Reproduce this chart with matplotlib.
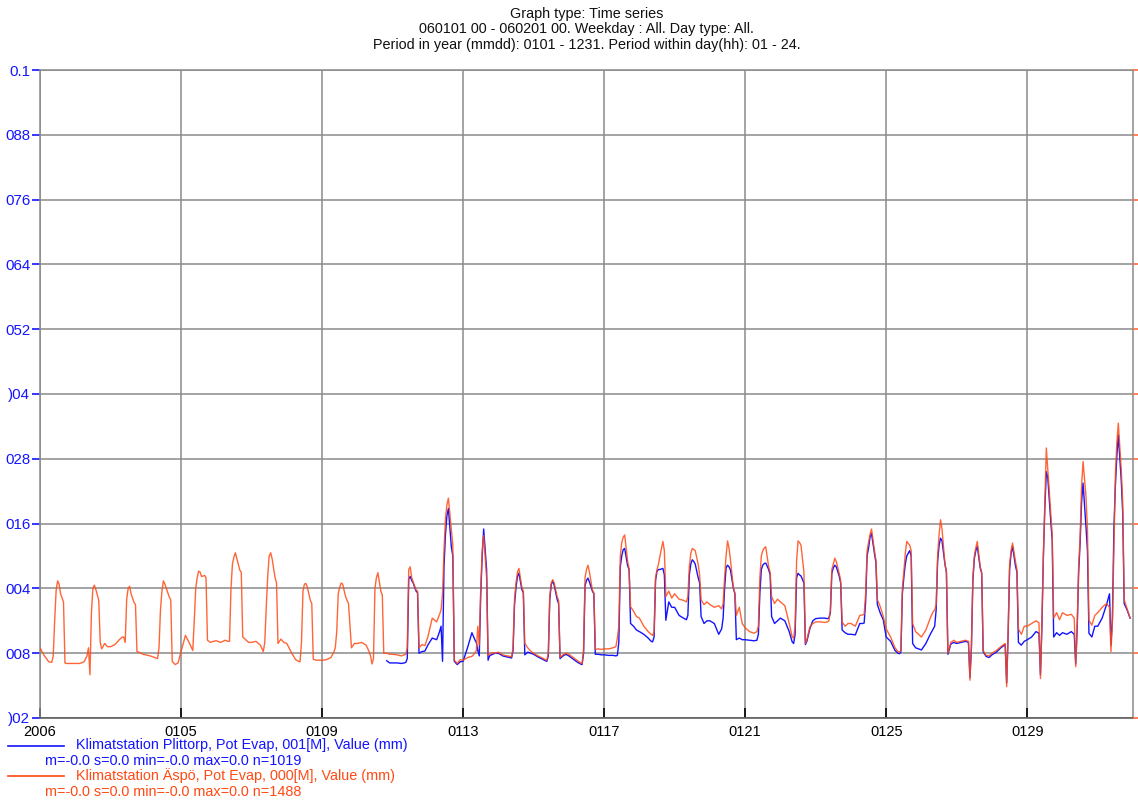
import numpy as np
import pandas as pd
import matplotlib
matplotlib.use('Agg')
import matplotlib.pyplot as plt
from matplotlib.lines import Line2D

plt.rcParams['font.family'] = ['Liberation Sans', 'DejaVu Sans']

# hours read inside each day
hours = [0, 3, 6, 8, 9, 10, 11, 12, 13, 14, 16, 17, 18, 20, 22]

# Klimatstation Aspo, Pot Evap (mm), 1..31 Jan 2006, one row per day
aspo = [
    [-0.0070, -0.0085, -0.0096, -0.0097, -0.0085, -0.0019, 0.0037, 0.0054, 0.0048, 0.0030, 0.0015, -0.0098, -0.0099, -0.0099, -0.0099],
    [-0.0099, -0.0099, -0.0096, -0.0085, -0.0070, -0.0120, -0.0005, 0.0040, 0.0046, 0.0038, 0.0018, -0.0060, -0.0072, -0.0062, -0.0068],
    [-0.0068, -0.0064, -0.0055, -0.0050, -0.0050, -0.0060, 0.0020, 0.0040, 0.0044, 0.0030, 0.0014, 0.0010, -0.0077, -0.0079, -0.0082],
    [-0.0083, -0.0085, -0.0088, -0.0090, -0.0070, 0.0000, 0.0035, 0.0054, 0.0048, 0.0040, 0.0024, 0.0019, -0.0095, -0.0101, -0.0098],
    [-0.0077, -0.0047, -0.0063, -0.0075, -0.0020, 0.0040, 0.0060, 0.0072, 0.0070, 0.0062, 0.0064, 0.0060, -0.0056, -0.0060, -0.0058],
    [-0.0057, -0.0060, -0.0056, -0.0058, -0.0058, 0.0040, 0.0085, 0.0098, 0.0106, 0.0095, 0.0074, 0.0070, -0.0050, -0.0055, -0.0060],
    [-0.0060, -0.0058, -0.0065, -0.0077, -0.0060, 0.0005, 0.0062, 0.0100, 0.0106, 0.0095, 0.0060, 0.0050, -0.0062, -0.0054, -0.0060],
    [-0.0062, -0.0078, -0.0092, -0.0095, -0.0096, -0.0060, 0.0035, 0.0048, 0.0049, 0.0042, 0.0018, 0.0012, -0.0091, -0.0093, -0.0093],
    [-0.0093, -0.0092, -0.0088, -0.0078, -0.0070, -0.0040, 0.0030, 0.0042, 0.0050, 0.0048, 0.0025, 0.0018, 0.0012, -0.0070, -0.0062],
    [-0.0062, -0.0060, -0.0065, -0.0077, -0.0085, -0.0100, -0.0090, 0.0040, 0.0060, 0.0069, 0.0035, 0.0028, -0.0080, -0.0080, -0.0082],
    [-0.0082, -0.0083, -0.0085, -0.0083, -0.0082, -0.0070, 0.0075, 0.0080, 0.0060, 0.0052, 0.0037, 0.0035, -0.0070, -0.0064, -0.0066],
    [-0.0050, -0.0015, -0.0022, -0.0008, 0.0000, 0.0030, 0.0110, 0.0170, 0.0195, 0.0207, 0.0150, 0.0120, -0.0093, -0.0099, -0.0092],
    [-0.0093, -0.0088, -0.0086, -0.0080, -0.0075, -0.0030, -0.0065, 0.0040, 0.0110, 0.0138, 0.0060, -0.0085, -0.0082, -0.0079, -0.0080],
    [-0.0078, -0.0083, -0.0085, -0.0086, -0.0087, -0.0070, 0.0020, 0.0050, 0.0070, 0.0077, 0.0042, 0.0035, -0.0062, -0.0070, -0.0076],
    [-0.0080, -0.0085, -0.0089, -0.0092, -0.0093, -0.0080, 0.0025, 0.0050, 0.0056, 0.0050, 0.0025, 0.0018, -0.0088, -0.0083, -0.0080],
    [-0.0082, -0.0088, -0.0094, -0.0098, -0.0099, -0.0075, 0.0060, 0.0075, 0.0083, 0.0070, 0.0037, 0.0032, -0.0073, -0.0072, -0.0073],
    [-0.0072, -0.0072, -0.0070, -0.0068, -0.0052, -0.0030, 0.0100, 0.0125, 0.0135, 0.0139, 0.0090, 0.0075, 0.0006, -0.0002, -0.0012],
    [-0.0015, -0.0030, -0.0040, -0.0045, -0.0047, -0.0040, 0.0060, 0.0075, 0.0085, 0.0100, 0.0127, 0.0110, 0.0025, 0.0035, 0.0022],
    [0.0030, 0.0020, 0.0018, 0.0015, 0.0025, 0.0080, 0.0105, 0.0114, 0.0112, 0.0110, 0.0085, 0.0065, 0.0019, 0.0010, 0.0015],
    [0.0010, 0.0005, 0.0008, 0.0002, 0.0012, 0.0060, 0.0100, 0.0128, 0.0115, 0.0093, 0.0040, 0.0032, -0.0010, 0.0005, -0.0025],
    [-0.0033, -0.0040, -0.0043, -0.0040, -0.0030, 0.0060, 0.0100, 0.0110, 0.0115, 0.0117, 0.0080, 0.0070, 0.0025, 0.0012, 0.0020],
    [0.0015, 0.0008, -0.0025, -0.0050, -0.0052, -0.0030, 0.0090, 0.0128, 0.0125, 0.0120, 0.0070, -0.0062, -0.0055, -0.0032, -0.0025],
    [-0.0022, -0.0022, -0.0023, -0.0022, -0.0020, 0.0000, 0.0075, 0.0085, 0.0096, 0.0090, 0.0068, 0.0055, -0.0022, -0.0030, -0.0025],
    [-0.0025, -0.0030, -0.0010, -0.0009, -0.0008, 0.0030, 0.0110, 0.0125, 0.0140, 0.0150, 0.0110, 0.0093, 0.0019, 0.0006, -0.0012],
    [-0.0035, -0.0050, -0.0070, -0.0077, -0.0078, -0.0075, 0.0040, 0.0070, 0.0105, 0.0127, 0.0120, 0.0110, -0.0025, -0.0040, -0.0045],
    [-0.0050, -0.0037, -0.0015, -0.0003, 0.0000, 0.0010, 0.0100, 0.0140, 0.0167, 0.0150, 0.0085, 0.0070, -0.0080, -0.0060, -0.0056],
    [-0.0060, -0.0058, -0.0056, -0.0058, -0.0130, -0.0070, 0.0060, 0.0100, 0.0115, 0.0127, 0.0080, 0.0070, -0.0075, -0.0084, -0.0085],
    [-0.0080, -0.0075, -0.0068, -0.0064, -0.0062, -0.0142, -0.0040, 0.0085, 0.0110, 0.0124, 0.0090, 0.0075, -0.0035, -0.0045, -0.0030],
    [-0.0030, -0.0025, -0.0020, -0.0024, -0.0127, -0.0020, 0.0100, 0.0200, 0.0300, 0.0260, 0.0180, 0.0140, -0.0015, -0.0005, -0.0018],
    [-0.0005, -0.0010, -0.0008, -0.0015, -0.0105, -0.0030, 0.0080, 0.0136, 0.0230, 0.0275, 0.0210, 0.0150, -0.0019, -0.0028, -0.0010],
    [-0.0005, 0.0005, 0.0012, 0.0005, -0.0077, -0.0020, 0.0120, 0.0250, 0.0310, 0.0346, 0.0260, 0.0200, 0.0019, 0.0002, -0.0015],
]

# Klimatstation Plittorp, Pot Evap (mm), 10..31 Jan 2006 (starts evening of the 10th)
nan = np.nan
plittorp = [
    [nan, nan, nan, nan, nan, nan, nan, nan, nan, nan, nan, nan, nan, -0.0094, -0.0098],
    [-0.0098, -0.0098, -0.0099, -0.0098, -0.0097, -0.0090, 0.0058, 0.0062, 0.0055, 0.0050, 0.0035, 0.0032, -0.0080, -0.0077, -0.0076],
    [-0.0065, -0.0052, -0.0055, -0.0040, -0.0030, -0.0095, 0.0080, 0.0140, 0.0175, 0.0188, 0.0117, 0.0100, -0.0095, -0.0101, -0.0096],
    [-0.0095, -0.0070, -0.0042, -0.0055, -0.0060, -0.0075, -0.0085, 0.0030, 0.0100, 0.0150, 0.0075, -0.0093, -0.0085, -0.0082, -0.0080],
    [-0.0080, -0.0085, -0.0087, -0.0088, -0.0089, -0.0075, 0.0010, 0.0042, 0.0062, 0.0068, 0.0038, 0.0032, -0.0083, -0.0078, -0.0080],
    [-0.0082, -0.0087, -0.0091, -0.0094, -0.0095, -0.0085, 0.0020, 0.0047, 0.0054, 0.0046, 0.0020, 0.0012, -0.0090, -0.0085, -0.0082],
    [-0.0085, -0.0091, -0.0097, -0.0100, -0.0101, -0.0080, 0.0045, 0.0055, 0.0059, 0.0052, 0.0035, 0.0030, -0.0082, -0.0082, -0.0083],
    [-0.0083, -0.0084, -0.0084, -0.0085, -0.0084, -0.0060, 0.0080, 0.0100, 0.0112, 0.0114, 0.0082, 0.0075, -0.0025, -0.0030, -0.0037],
    [-0.0040, -0.0045, -0.0052, -0.0058, -0.0059, -0.0050, 0.0055, 0.0072, 0.0075, 0.0075, 0.0077, 0.0065, -0.0019, 0.0015, 0.0005],
    [0.0005, -0.0010, -0.0015, -0.0018, -0.0010, 0.0065, 0.0085, 0.0093, 0.0090, 0.0085, 0.0060, 0.0050, -0.0012, -0.0025, -0.0020],
    [-0.0020, -0.0025, -0.0045, -0.0035, -0.0015, 0.0040, 0.0078, 0.0083, 0.0080, 0.0074, 0.0040, 0.0030, -0.0055, -0.0052, -0.0055],
    [-0.0055, -0.0056, -0.0057, -0.0056, -0.0045, 0.0030, 0.0075, 0.0083, 0.0086, 0.0087, 0.0075, 0.0065, -0.0012, -0.0025, -0.0020],
    [-0.0015, -0.0020, -0.0040, -0.0059, -0.0062, -0.0045, 0.0060, 0.0068, 0.0065, 0.0063, 0.0050, -0.0064, -0.0058, -0.0035, -0.0020],
    [-0.0016, -0.0015, -0.0015, -0.0016, -0.0015, -0.0005, 0.0068, 0.0078, 0.0083, 0.0080, 0.0063, 0.0050, -0.0037, -0.0042, -0.0045],
    [-0.0045, -0.0046, -0.0025, -0.0025, -0.0024, 0.0015, 0.0100, 0.0115, 0.0135, 0.0142, 0.0105, 0.0088, 0.0010, -0.0006, -0.0018],
    [-0.0050, -0.0058, -0.0075, -0.0080, -0.0081, -0.0078, 0.0030, 0.0060, 0.0085, 0.0100, 0.0110, 0.0100, -0.0062, -0.0070, -0.0072],
    [-0.0074, -0.0062, -0.0045, -0.0035, -0.0030, 0.0000, 0.0090, 0.0120, 0.0133, 0.0128, 0.0085, 0.0070, -0.0082, -0.0063, -0.0060],
    [-0.0062, -0.0060, -0.0058, -0.0060, -0.0125, -0.0070, 0.0055, 0.0095, 0.0110, 0.0118, 0.0078, 0.0068, -0.0077, -0.0086, -0.0088],
    [-0.0083, -0.0078, -0.0070, -0.0066, -0.0064, -0.0135, -0.0045, 0.0075, 0.0105, 0.0118, 0.0082, 0.0070, -0.0060, -0.0065, -0.0058],
    [-0.0055, -0.0050, -0.0040, -0.0043, -0.0120, -0.0030, 0.0100, 0.0190, 0.0256, 0.0245, 0.0165, 0.0130, -0.0050, -0.0042, -0.0047],
    [-0.0042, -0.0045, -0.0040, -0.0045, -0.0100, -0.0035, 0.0070, 0.0124, 0.0200, 0.0235, 0.0154, 0.0110, -0.0043, -0.0050, -0.0030],
    [-0.0030, -0.0015, 0.0010, 0.0030, -0.0065, -0.0015, 0.0150, 0.0230, 0.0285, 0.0324, 0.0240, 0.0180, 0.0012, 0.0000, -0.0015],
]

y_ticks = [-0.02, -0.008, 0.004, 0.016, 0.028, 0.04, 0.052, 0.064, 0.076, 0.088, 0.1]
y_labels = [')02', '008', '004', '016', '028', ')04', '052', '064', '076', '088', '0.1']
x_ticks = ['2006-01-01', '2006-01-05', '2006-01-09', '2006-01-13',
           '2006-01-17', '2006-01-21', '2006-01-25', '2006-01-29']
x_labels = ['2006', '0105', '0109', '0113', '0117', '0121', '0125', '0129']

title_lines = ['Graph type: Time series',
               '060101 00 - 060201 00. Weekday : All. Day type: All.',
               'Period in year (mmdd): 0101 - 1231. Period within day(hh): 01 - 24.']
legend_rows = [
    ('Klimatstation Plittorp, Pot Evap, 001[M], Value (mm)', 'm=-0.0 s=0.0 min=-0.0 max=0.0 n=1019'),
    ('Klimatstation Äspö, Pot Evap, 000[M], Value (mm)', 'm=-0.0 s=0.0 min=-0.0 max=0.0 n=1488'),
]

BLUE = '#1414ff'
RED = '#ff4a14'


def stamps(first_day, n_days):
    start = pd.Timestamp('2006-01-01') + pd.Timedelta(days=first_day - 1)
    return [start + pd.Timedelta(days=d, hours=h) for d in range(n_days) for h in hours]


t_aspo = stamps(1, len(aspo))
t_plit = stamps(10, len(plittorp))
v_aspo = np.array(aspo).ravel()
v_plit = np.array(plittorp).ravel()

W, H = 1138, 802
fig = plt.figure(figsize=(W / 100, H / 100), dpi=100)
ax = fig.add_axes([40 / W, 1 - 718 / H, 1093 / W, 648 / H])

ax.plot(t_plit, v_plit, color=BLUE, lw=1.0, zorder=3)
ax.plot(t_aspo, v_aspo, color=RED, lw=1.0, alpha=0.85, zorder=4)

ax.set_xlim(pd.Timestamp('2006-01-01'), pd.Timestamp('2006-02-01'))
ax.set_ylim(-0.02, 0.1)
ax.set_xticks(pd.to_datetime(x_ticks))
ax.set_xticklabels(x_labels)
ax.set_yticks(y_ticks)
ax.set_yticklabels(y_labels)

ax.grid(True, color='#8a8a8a', lw=1.1)
ax.set_axisbelow(True)
for side in ['top', 'left', 'right']:
    ax.spines[side].set_color('#8a8a8a')
    ax.spines[side].set_linewidth(1.1)
ax.spines['bottom'].set_color('#555555')
ax.spines['bottom'].set_linewidth(1.1)

ax.tick_params(axis='y', colors=BLUE, direction='out', length=6, width=1.2,
               pad=1, labelsize=10.8)
ax.tick_params(axis='x', colors='black', direction='in', length=7, width=1.2,
               pad=5, labelsize=10.5)

# orange ticks on the right side
tw = ax.twinx()
tw.set_ylim(-0.02, 0.1)
tw.set_yticks(y_ticks)
tw.set_yticklabels([])
tw.tick_params(axis='y', colors='#ff6a3a', direction='out', length=5, width=1.2)
for side in ['top', 'left', 'bottom', 'right']:
    tw.spines[side].set_visible(False)

# title block
cx = (40 + 1133) / 2 / W
for i, line in enumerate(title_lines):
    fig.text(cx, 1 - (14 + 15.5 * i) / H, line, ha='center', va='center',
             fontsize=10.4, color='#111111')

# legend under the axes
for i, (name, stats) in enumerate(legend_rows):
    col = BLUE if i == 0 else RED
    y_line = 1 - (745.5 + 30.5 * i) / H
    y_stat = 1 - (761 + 30.5 * i) / H
    fig.add_artist(Line2D([8 / W, 64 / W], [y_line, y_line], color=col, lw=1.2))
    fig.text(76 / W, y_line, name, ha='left', va='center', fontsize=10.4, color=col)
    fig.text(45 / W, y_stat, stats, ha='left', va='center', fontsize=10.4, color=col)

fig.savefig('out.png', dpi=100)
